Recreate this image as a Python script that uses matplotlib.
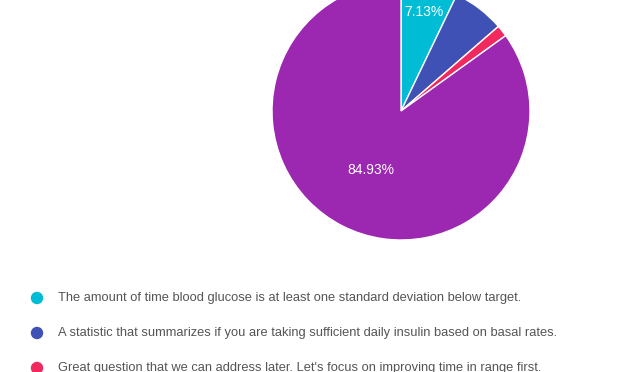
import numpy as np
import matplotlib.pyplot as plt

plt.rcParams['font.family'] = ['Liberation Sans', 'DejaVu Sans']

# slice values (percent), clockwise from 12 o'clock
labels = [
    "The amount of time blood glucose is at least one standard deviation below target.",
    "A statistic that summarizes if you are taking sufficient daily insulin based on basal rates.",
    "Great question that we can address later. Let's focus on improving time in range first.",
    "",
]
values = [7.13, 6.49, 1.45, 84.93]
colors = ["#00BCD4", "#3F51B5", "#F2295F", "#9C27B0"]

W, H = 641, 372
fig = plt.figure(figsize=(W / 100, H / 100), dpi=100)
ax = fig.add_axes([0, 0, 1, 1])

cx, cy, r = 401, H - 111, 129
wedges, _ = ax.pie(values, colors=colors, startangle=90, counterclock=False,
                   center=(cx, cy), radius=r, frame=True,
                   wedgeprops=dict(edgecolor='white', linewidth=1))
ax.set_xlim(0, W)
ax.set_ylim(0, H)
ax.set_aspect('equal')
ax.axis('off')

# percentage labels only where they fit (like the original)
label_dist = {0: 0.79, 3: 0.51}
cum = 0
for i, v in enumerate(values):
    mid = cum + v / 2
    cum += v
    if i not in label_dist:
        continue
    ang = np.deg2rad(90 - mid * 3.6)
    d = label_dist[i] * r
    ax.text(cx + d * np.cos(ang), cy + d * np.sin(ang), f"{v:.2f}%",
            color='white', fontsize=10, ha='center', va='center')

# legend (last entry is cut off by the image edge, as in the original)
for i, lab in enumerate(labels[:3]):
    y = H - (298 + 35 * i)
    ax.add_patch(plt.Circle((37, y), 5.5, color=colors[i]))
    ax.text(58, y, lab, color='#555555', fontsize=9.3, ha='left', va='center')

fig.savefig("out.png", dpi=100)
